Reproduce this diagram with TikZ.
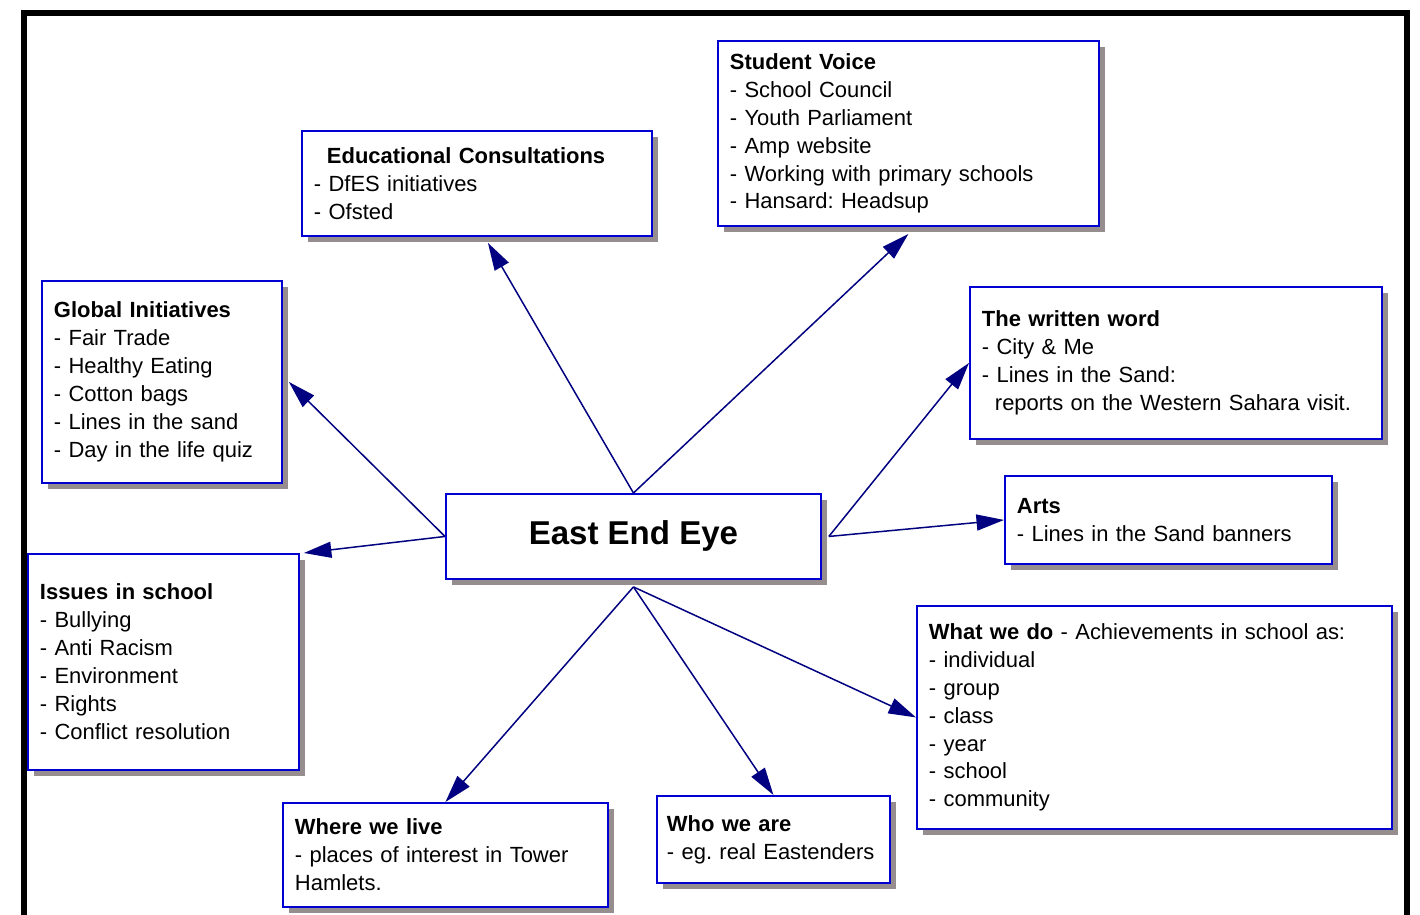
\documentclass[tikz,border=0pt]{standalone}
\usepackage{fontspec}
\setmainfont{Liberation Sans}
\usetikzlibrary{arrows.meta,shadows}
\definecolor{boxblue}{RGB}{0,0,210}
\definecolor{arrowblue}{RGB}{0,0,128}
\definecolor{shadowgray}{RGB}{150,142,142}

\begin{document}
\frenchspacing
\hyphenpenalty=10000\relax
\begin{tikzpicture}[
   x=0.02cm, y=-0.02cm,
   topic/.style={draw=boxblue, line width=1.1pt, fill=white, anchor=north west,
      align=left, inner xsep=0.24cm, inner ysep=0pt,
      font=\fontsize{12.5}{15.9}\selectfont,
      drop shadow={shadow xshift=0.12cm, shadow yshift=-0.12cm, fill=shadowgray, opacity=1}},
   hub/.style={topic, align=center, font=\fontsize{18.8}{22}\selectfont\bfseries},
   arrow/.style={-{Triangle[length=0.55cm,width=0.32cm]}, draw=arrowblue, line width=0.85pt}
]
\useasboundingbox (0,0) rectangle (1420,915);
\clip (0,0) rectangle (1420,915);

% frame
\draw[line width=0.12cm] (24,13) rectangle (1407,960);

% centre
\node[hub, minimum width=7.5cm, minimum height=1.7cm] (eye) at (445,493) {\raisebox{-0.08cm}{East End Eye}};

% topics
\node[topic, text width=6.52cm, minimum height=2.1cm] (edu) at (301,130)
   {\hspace*{0.26cm}\textbf{Educational Consultations}\\- DfES initiatives\\- Ofsted};
\node[topic, text width=7.14cm, minimum height=3.7cm] (voice) at (717,40)
   {\textbf{Student Voice}\\- School Council\\- Youth Parliament\\- Amp website\\- Working with primary schools\\- Hansard: Headsup};
\node[topic, text width=4.32cm, minimum height=4.04cm] (global) at (41,280)
   {\textbf{Global Initiatives}\\- Fair Trade\\- Healthy Eating\\- Cotton bags\\- Lines in the sand\\- Day in the life quiz};
\node[topic, text width=7.76cm, minimum height=3.04cm] (written) at (969,286)
   {\textbf{The written word}\\- City \& Me\\- Lines in the Sand:\\\hspace*{0.26cm}reports on the Western Sahara visit.};
\node[topic, text width=6.06cm, minimum height=1.76cm] (arts) at (1004,475)
   {\textbf{Arts}\\- Lines in the Sand banners};
\node[topic, text width=4.94cm, minimum height=4.32cm] (issues) at (27,553)
   {\textbf{Issues in school}\\- Bullying\\- Anti Racism\\- Environment\\- Rights\\- Conflict resolution};
\node[topic, text width=9.02cm, minimum height=4.46cm] (whatwedo) at (916,605)
   {\textbf{What we do} - Achievements in school as:\\- individual\\- group\\- class\\- year\\- school\\- community};
\node[topic, text width=6.02cm, minimum height=2.08cm] (where) at (282,802)
   {\textbf{Where we live}\\- places of interest in Tower\\Hamlets.};
\node[topic, inner xsep=0.2cm, text width=4.26cm, minimum height=1.74cm] (who) at (656,795)
   {\textbf{Who we are}\\- eg. real Eastenders};

% connectors
\draw[arrow] (eye.north) -- ([xshift=0.22cm,yshift=-0.12cm]edu.south);
\draw[arrow] (eye.north) -- ([yshift=-0.14cm]voice.south);
\draw[arrow] (eye.west) -- ([xshift=0.12cm]global.east);
\draw[arrow] (eye.west) -- ([xshift=0.08cm]issues.north east);
\draw[arrow] ([xshift=0.14cm]eye.east) -- (written.west);
\draw[arrow] ([xshift=0.14cm]eye.east) -- (arts.west);
\draw[arrow] ([yshift=-0.14cm]eye.south) -- (where.north);
\draw[arrow] ([yshift=-0.14cm]eye.south) -- (who.north);
\draw[arrow] ([yshift=-0.14cm]eye.south) -- (whatwedo.west);

\end{tikzpicture}
\end{document}
